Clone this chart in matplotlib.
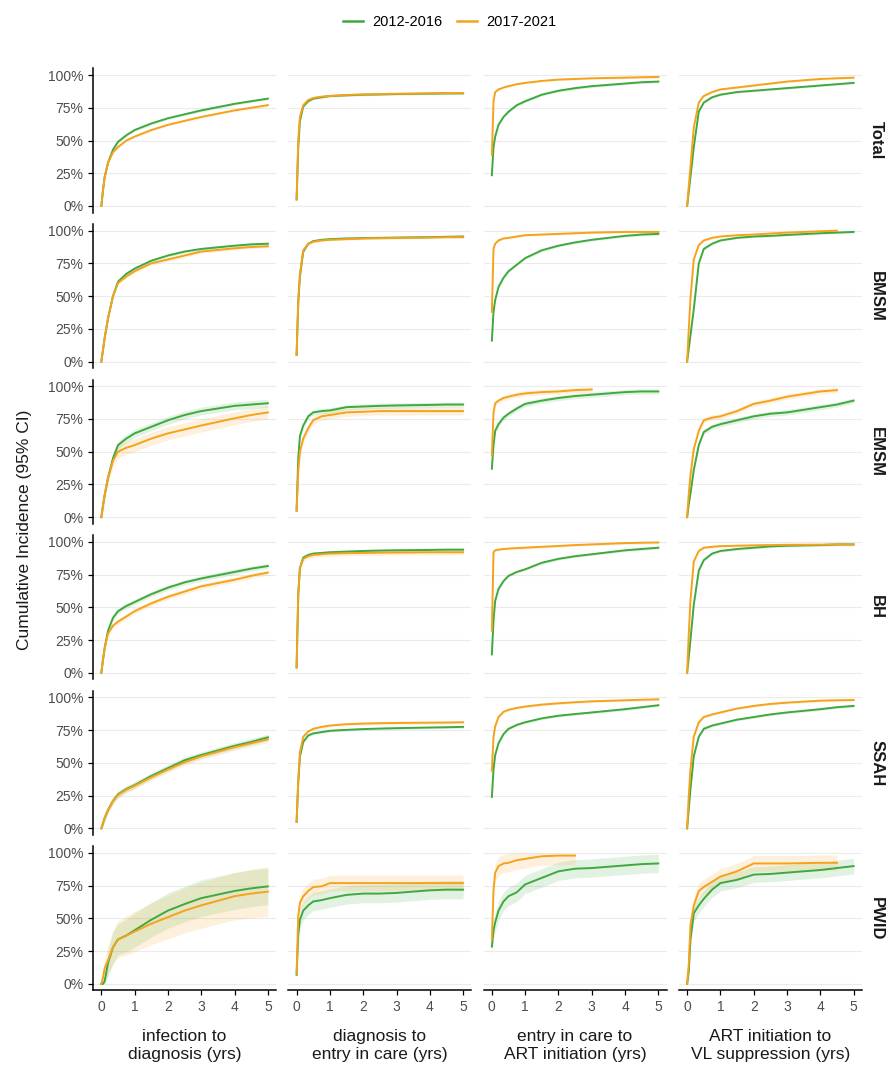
import numpy as np
import matplotlib.pyplot as plt
from matplotlib.lines import Line2D

plt.rcParams['font.family'] = ['Liberation Sans', 'DejaVu Sans']

# time grid (years) shared by every curve
t = [0, 0.05, 0.1, 0.2, 0.35, 0.5, 0.75, 1, 1.5, 2, 2.5, 3, 4, 4.5, 5]
nan = np.nan

rows = ['Total', 'BMSM', 'EMSM', 'BH', 'SSAH', 'PWID']
cols = ['infection to\ndiagnosis (yrs)', 'diagnosis to\nentry in care (yrs)',
        'entry in care to\nART initiation (yrs)', 'ART initiation to\nVL suppression (yrs)']
periods = ['2012-2016', '2017-2021']
green = '#3fa93f'
orange = '#f5a21c'

# cumulative incidence, one list per column (period 2012-2016 = green, 2017-2021 = orange)
total_green = [
    [0, 0.12, 0.22, 0.33, 0.43, 0.49, 0.54, 0.58, 0.63, 0.67, 0.70, 0.73, 0.78, 0.80, 0.82],
    [0.05, 0.45, 0.65, 0.76, 0.80, 0.82, 0.83, 0.84, 0.845, 0.85, 0.852, 0.855, 0.858, 0.86, 0.86],
    [0.235, 0.45, 0.53, 0.62, 0.68, 0.72, 0.77, 0.80, 0.85, 0.88, 0.90, 0.915, 0.935, 0.945, 0.95],
    [0, 0.11, 0.22, 0.45, 0.72, 0.79, 0.83, 0.85, 0.87, 0.88, 0.89, 0.90, 0.92, 0.93, 0.94],
]
total_orange = [
    [0, 0.12, 0.22, 0.33, 0.41, 0.45, 0.50, 0.53, 0.58, 0.62, 0.65, 0.68, 0.73, 0.75, 0.77],
    [0.05, 0.50, 0.68, 0.77, 0.81, 0.825, 0.835, 0.84, 0.848, 0.852, 0.855, 0.857, 0.86, 0.862, 0.863],
    [0.39, 0.80, 0.87, 0.89, 0.905, 0.915, 0.93, 0.94, 0.955, 0.965, 0.97, 0.975, 0.98, 0.983, 0.985],
    [0, 0.15, 0.30, 0.60, 0.79, 0.84, 0.87, 0.89, 0.905, 0.92, 0.935, 0.95, 0.97, 0.975, 0.98],
]
bmsm_green = [
    [0, 0.09, 0.18, 0.33, 0.50, 0.61, 0.67, 0.71, 0.77, 0.81, 0.84, 0.86, 0.885, 0.895, 0.90],
    [0.05, 0.45, 0.65, 0.84, 0.90, 0.92, 0.93, 0.935, 0.94, 0.943, 0.945, 0.947, 0.95, 0.953, 0.955],
    [0.16, 0.38, 0.47, 0.57, 0.64, 0.69, 0.74, 0.79, 0.85, 0.885, 0.91, 0.93, 0.96, 0.97, 0.975],
    [0, 0.10, 0.20, 0.40, 0.75, 0.86, 0.90, 0.925, 0.945, 0.955, 0.96, 0.967, 0.98, 0.985, 0.99],
]
bmsm_orange = [
    [0, 0.09, 0.18, 0.33, 0.50, 0.60, 0.65, 0.69, 0.75, 0.78, 0.81, 0.84, 0.865, 0.875, 0.88],
    [0.05, 0.47, 0.67, 0.85, 0.90, 0.915, 0.925, 0.93, 0.935, 0.94, 0.942, 0.944, 0.947, 0.95, 0.95],
    [0.38, 0.86, 0.90, 0.925, 0.94, 0.945, 0.955, 0.965, 0.97, 0.975, 0.98, 0.985, 0.99, 0.99, 0.99],
    [0, 0.25, 0.48, 0.78, 0.89, 0.925, 0.945, 0.955, 0.965, 0.97, 0.978, 0.985, 0.995, 1.0, nan],
]
emsm_green = [
    [0, 0.09, 0.17, 0.30, 0.45, 0.55, 0.60, 0.64, 0.69, 0.74, 0.78, 0.81, 0.85, 0.86, 0.87],
    [0.05, 0.45, 0.62, 0.70, 0.77, 0.80, 0.81, 0.815, 0.84, 0.845, 0.85, 0.853, 0.857, 0.86, 0.86],
    [0.37, 0.55, 0.66, 0.71, 0.76, 0.79, 0.83, 0.865, 0.89, 0.91, 0.925, 0.935, 0.955, 0.96, 0.96],
    [0, 0.10, 0.18, 0.36, 0.55, 0.65, 0.69, 0.71, 0.74, 0.77, 0.79, 0.80, 0.84, 0.86, 0.89],
]
emsm_orange = [
    [0, 0.09, 0.17, 0.30, 0.43, 0.50, 0.53, 0.55, 0.60, 0.64, 0.67, 0.70, 0.755, 0.78, 0.80],
    [0.05, 0.35, 0.50, 0.60, 0.68, 0.74, 0.77, 0.78, 0.80, 0.805, 0.81, 0.81, 0.81, 0.81, 0.81],
    [0.47, 0.80, 0.87, 0.89, 0.91, 0.92, 0.935, 0.945, 0.955, 0.96, 0.97, 0.975, nan, nan, nan],
    [0, 0.18, 0.32, 0.52, 0.66, 0.74, 0.76, 0.77, 0.81, 0.865, 0.89, 0.92, 0.96, 0.97, nan],
]
bh_green = [
    [0, 0.10, 0.19, 0.32, 0.42, 0.47, 0.51, 0.54, 0.60, 0.65, 0.69, 0.72, 0.77, 0.795, 0.815],
    [0.04, 0.60, 0.80, 0.88, 0.90, 0.91, 0.915, 0.92, 0.925, 0.93, 0.933, 0.935, 0.938, 0.94, 0.94],
    [0.14, 0.40, 0.55, 0.64, 0.70, 0.74, 0.77, 0.79, 0.84, 0.87, 0.89, 0.905, 0.935, 0.945, 0.955],
    [0, 0.12, 0.25, 0.52, 0.78, 0.86, 0.91, 0.93, 0.945, 0.955, 0.965, 0.97, 0.975, 0.98, 0.98],
]
bh_orange = [
    [0, 0.10, 0.19, 0.30, 0.36, 0.39, 0.43, 0.47, 0.53, 0.58, 0.62, 0.66, 0.71, 0.74, 0.765],
    [0.04, 0.60, 0.80, 0.87, 0.89, 0.90, 0.905, 0.91, 0.913, 0.915, 0.917, 0.918, 0.92, 0.92, 0.92],
    [0.32, 0.92, 0.935, 0.94, 0.945, 0.948, 0.952, 0.955, 0.962, 0.968, 0.975, 0.98, 0.99, 0.993, 0.995],
    [0, 0.30, 0.55, 0.85, 0.93, 0.955, 0.962, 0.967, 0.97, 0.973, 0.975, 0.977, 0.978, 0.98, 0.98],
]
ssah_green = [
    [0, 0.04, 0.08, 0.14, 0.21, 0.26, 0.30, 0.33, 0.40, 0.46, 0.52, 0.56, 0.63, 0.66, 0.695],
    [0.05, 0.35, 0.55, 0.66, 0.71, 0.725, 0.735, 0.745, 0.752, 0.758, 0.762, 0.765, 0.77, 0.772, 0.775],
    [0.24, 0.45, 0.56, 0.65, 0.72, 0.76, 0.79, 0.81, 0.84, 0.86, 0.873, 0.885, 0.91, 0.925, 0.94],
    [0, 0.15, 0.30, 0.55, 0.70, 0.76, 0.785, 0.80, 0.83, 0.85, 0.87, 0.885, 0.91, 0.925, 0.935],
]
ssah_orange = [
    [0, 0.04, 0.08, 0.14, 0.21, 0.255, 0.295, 0.325, 0.39, 0.45, 0.505, 0.55, 0.62, 0.65, 0.68],
    [0.05, 0.37, 0.58, 0.70, 0.74, 0.76, 0.775, 0.785, 0.795, 0.80, 0.803, 0.805, 0.807, 0.808, 0.81],
    [0.44, 0.70, 0.78, 0.85, 0.89, 0.905, 0.92, 0.93, 0.945, 0.955, 0.963, 0.97, 0.978, 0.982, 0.985],
    [0, 0.25, 0.45, 0.70, 0.81, 0.85, 0.87, 0.885, 0.915, 0.935, 0.95, 0.96, 0.975, 0.978, 0.98],
]
pwid_green = [
    [0, 0, 0.02, 0.16, 0.28, 0.34, 0.37, 0.41, 0.49, 0.56, 0.61, 0.655, 0.71, 0.73, 0.745],
    [0.07, 0.38, 0.49, 0.56, 0.60, 0.63, 0.64, 0.655, 0.68, 0.69, 0.69, 0.695, 0.715, 0.72, 0.72],
    [0.285, 0.41, 0.47, 0.56, 0.63, 0.67, 0.70, 0.76, 0.81, 0.86, 0.88, 0.885, 0.905, 0.915, 0.92],
    [0, 0.10, 0.34, 0.54, 0.60, 0.65, 0.72, 0.77, 0.795, 0.835, 0.84, 0.85, 0.87, 0.885, 0.90],
]
pwid_orange = [
    [0, 0.05, 0.12, 0.18, 0.28, 0.34, 0.37, 0.40, 0.46, 0.51, 0.56, 0.60, 0.67, 0.69, 0.705],
    [0.08, 0.52, 0.62, 0.67, 0.71, 0.74, 0.745, 0.77, 0.77, 0.77, 0.77, 0.77, 0.77, 0.77, 0.77],
    [0.34, 0.72, 0.85, 0.90, 0.92, 0.925, 0.945, 0.955, 0.975, 0.98, 0.98, nan, nan, nan, nan],
    [0, 0.15, 0.45, 0.60, 0.71, 0.74, 0.78, 0.82, 0.86, 0.92, 0.92, 0.92, 0.925, 0.925, nan],
]

# half-width of the 95% CI band per column (scalar, or one value per time point)
total_green_ci = [0.01, 0.008, 0.01, 0.008]
total_orange_ci = [0.01, 0.008, 0.008, 0.008]
bmsm_green_ci = [0.012, 0.008, 0.01, 0.008]
bmsm_orange_ci = [0.012, 0.008, 0.008, 0.008]
emsm_green_ci = [0.03, 0.02, 0.02, 0.02]
emsm_orange_ci = [0.05, 0.03, 0.02, 0.02]
bh_green_ci = [0.02, 0.012, 0.01, 0.01]
bh_orange_ci = [0.02, 0.02, 0.01, 0.01]
ssah_green_ci = [0.025, 0.01, 0.01, 0.01]
ssah_orange_ci = [0.025, 0.012, 0.01, 0.01]
pwid_green_ci = [[0, 0.03, 0.06, 0.10, 0.12, 0.12, 0.125, 0.13, 0.13, 0.135, 0.135, 0.14, 0.14, 0.14, 0.14],
                 0.07, 0.07, 0.06]
pwid_orange_ci = [[0, 0.04, 0.08, 0.11, 0.13, 0.14, 0.15, 0.155, 0.16, 0.165, 0.17, 0.175, 0.18, 0.185, 0.19],
                  0.06, 0.07, 0.06]

green_rows = [total_green, bmsm_green, emsm_green, bh_green, ssah_green, pwid_green]
orange_rows = [total_orange, bmsm_orange, emsm_orange, bh_orange, ssah_orange, pwid_orange]
green_ci_rows = [total_green_ci, bmsm_green_ci, emsm_green_ci, bh_green_ci, ssah_green_ci, pwid_green_ci]
orange_ci_rows = [total_orange_ci, bmsm_orange_ci, emsm_orange_ci, bh_orange_ci, ssah_orange_ci, pwid_orange_ci]

fig, axes = plt.subplots(6, 4, figsize=(8.9, 10.7), dpi=100, sharex=True, sharey=True)
fig.subplots_adjust(left=0.1045, right=0.9685, top=0.936, bottom=0.0743, wspace=0.066, hspace=0.08)

tt = np.array(t)
for i in range(6):
    for j in range(4):
        ax = axes[i, j]
        for vals, cis, colr in [(green_rows[i][j], green_ci_rows[i][j], green),
                                (orange_rows[i][j], orange_ci_rows[i][j], orange)]:
            y = np.array(vals, dtype=float)
            hw = np.broadcast_to(np.array(cis, dtype=float), y.shape)
            lo = np.clip(y - hw, 0, 1)
            hi = np.clip(y + hw, 0, 1)
            ax.fill_between(tt, lo, hi, color=colr, alpha=0.15, lw=0)
        for vals, colr in [(green_rows[i][j], green), (orange_rows[i][j], orange)]:
            ax.plot(tt, vals, color=colr, lw=1.4)

        ax.set_xlim(-0.25, 5.25)
        ax.set_ylim(-0.05, 1.05)
        ax.grid(axis='y', color='#ebebeb', lw=0.8)
        ax.set_axisbelow(True)
        for s in ax.spines.values():
            s.set_visible(False)
        ax.tick_params(length=3.5, width=0.9, color='black', labelcolor='#4d4d4d', labelsize=10, pad=3.5)
        if j == 0:
            ax.spines['left'].set_visible(True)
            ax.spines['left'].set_linewidth(1.1)
        else:
            ax.tick_params(left=False, labelleft=False)
        if i == 5:
            ax.spines['bottom'].set_visible(True)
            ax.spines['bottom'].set_linewidth(1.1)
            ax.set_xlabel(cols[j], fontsize=12.5, color='#1a1a1a', labelpad=11, linespacing=1.2)
        else:
            ax.tick_params(bottom=False, labelbottom=False)
        if j == 3:
            ax.text(1.08, 0.5, rows[i], transform=ax.transAxes, rotation=-90,
                    va='center', ha='center', fontsize=12, fontweight='bold', color='#1a1a1a')

axes[0, 0].set_yticks([0, 0.25, 0.5, 0.75, 1])
axes[0, 0].set_yticklabels(['0%', '25%', '50%', '75%', '100%'])
axes[0, 0].set_xticks([0, 1, 2, 3, 4, 5])

fig.text(0.027, 0.505, 'Cumulative Incidence (95% CI)', rotation=90, va='center', ha='center',
         fontsize=12.5, color='#1a1a1a')

handles = [Line2D([], [], color=green, lw=1.8), Line2D([], [], color=orange, lw=1.8)]
fig.legend(handles, periods, loc='upper center', bbox_to_anchor=(0.505, 0.998), ncol=2,
           frameon=False, fontsize=10.5, handlelength=1.4, columnspacing=1.0, handletextpad=0.6)

plt.savefig('out.png', dpi=100)
